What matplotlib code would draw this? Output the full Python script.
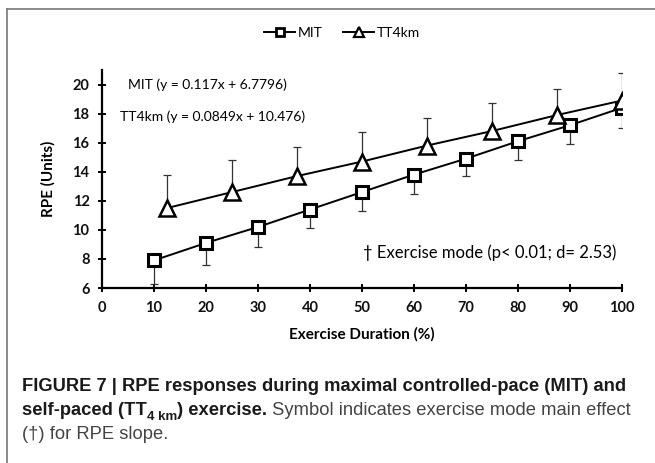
import numpy as np
import matplotlib
matplotlib.use("Agg")
import matplotlib.pyplot as plt
from matplotlib.lines import Line2D

# data
mit_x = [10, 20, 30, 40, 50, 60, 70, 80, 90, 100]
mit_y = [7.9, 9.1, 10.2, 11.4, 12.6, 13.8, 14.9, 16.1, 17.2, 18.4]
mit_low = [6.3, 7.6, 8.8, 10.1, 11.3, 12.5, 13.7, 14.8, 15.9, 17.0]   # lower end of SD bar

tt_x = [12.5, 25, 37.5, 50, 62.5, 75, 87.5, 100]
tt_y = [11.5, 12.6, 13.7, 14.7, 15.8, 16.8, 17.9, 18.9]
tt_high = [13.8, 14.8, 15.7, 16.7, 17.7, 18.7, 19.7, 20.8]        # upper end of SD bar

x_ticks = [0, 10, 20, 30, 40, 50, 60, 70, 80, 90, 100]
y_ticks = [6, 8, 10, 12, 14, 16, 18, 20]

W, H = 655, 463
fig = plt.figure(figsize=(W / 100, H / 100), dpi=100)

def px(x, y):
    # pixel coords (top-left origin) -> figure fraction
    return x / W, 1 - y / H

# panel frame (top and left edges)
fig.add_artist(Line2D([7 / W, 1], [1 - 9 / H, 1 - 9 / H], color="#777777", lw=1.2))
fig.add_artist(Line2D([7 / W, 7 / W], [0, 1 - 9 / H], color="#777777", lw=1.2))

left, right = 102, 622
bottom, top = 288, 70
ax = fig.add_axes([left / W, 1 - bottom / H, (right - left) / W, (bottom - top) / H])

mit_x = np.array(mit_x); mit_y = np.array(mit_y)
tt_x = np.array(tt_x); tt_y = np.array(tt_y)
mit_err = [mit_y - np.array(mit_low), np.zeros(len(mit_y))]
tt_err = [np.zeros(len(tt_y)), np.array(tt_high) - tt_y]

ax.errorbar(mit_x, mit_y, yerr=mit_err, fmt="none", ecolor="#333333", elinewidth=0.9, capsize=3, capthick=0.9, zorder=2)
ax.errorbar(tt_x, tt_y, yerr=tt_err, fmt="none", ecolor="#333333", elinewidth=0.9, capsize=3, capthick=0.9, zorder=2)

ax.plot(mit_x, mit_y, color="black", lw=1.4, zorder=3)
ax.plot(tt_x, tt_y, color="black", lw=1.4, zorder=3)
ax.plot(mit_x, mit_y, ls="none", marker="s", ms=9, mfc="white", mec="black", mew=2.2, zorder=4)
ax.plot(tt_x, tt_y, ls="none", marker="^", ms=11, mfc="white", mec="black", mew=1.8, zorder=4)

ax.set_xlim(0, 100)
ax.set_ylim(6, 21)
ax.set_xticks(x_ticks)
ax.set_yticks(y_ticks)
for s in ["top", "right"]:
    ax.spines[s].set_visible(False)
for s in ["left", "bottom"]:
    ax.spines[s].set_linewidth(1.6)
ax.tick_params(axis="both", direction="inout", length=6, width=1.4, pad=6)
for lab in ax.get_xticklabels() + ax.get_yticklabels():
    lab.set_fontfamily("Lato")
    lab.set_fontweight("bold")
    lab.set_fontsize(10.5)
    lab.set_color("#111111")

ax.set_xlabel("Exercise Duration (%)", fontfamily="Lato", fontweight="bold", fontsize=11, labelpad=9)
ax.set_ylabel("RPE (Units)", fontfamily="Lato", fontweight="bold", fontsize=11, labelpad=12)

ax.text(5, 20, "MIT (y = 0.117x + 6.7796)", fontfamily="Lato", fontsize=10, va="center", ha="left")
ax.text(3.5, 17.8, "TT4km (y = 0.0849x + 10.476)", fontfamily="Lato", fontsize=10, va="center", ha="left")
ax.text(99, 8.4, "\u2020 Exercise mode (p< 0.01; d= 2.53)", fontfamily="Lato", fontsize=12, va="center", ha="right")

h1 = Line2D([], [], color="black", lw=1.4, marker="s", ms=6, mfc="white", mec="black", mew=2)
h2 = Line2D([], [], color="black", lw=1.4, marker="^", ms=7, mfc="white", mec="black", mew=1.6)
fig.legend([h1, h2], ["MIT", "TT4km"], loc="center", bbox_to_anchor=px(342, 33), ncol=2, frameon=False,
           prop={"family": "Lato", "size": 10}, handlelength=2.2, handletextpad=0.2, columnspacing=1.5)

# caption with mixed bold / regular runs
renderer = fig.canvas.get_renderer()
cap_size = 13.2
bold_col = "#1a1a1a"
reg_col = "#444444"

def run(pieces, x0, y0):
    x = x0
    for txt, weight, size, dy, col in pieces:
        t = fig.text(x / W, 1 - (y0 + dy) / H, txt, fontfamily="Liberation Sans", fontweight=weight,
                     fontsize=size, color=col, va="baseline", ha="left")
        bb = t.get_window_extent(renderer)
        x += bb.width

run([("FIGURE 7 | RPE responses during maximal controlled-pace (MIT) and", "bold", cap_size, 0, bold_col)], 22, 391)
run([("self-paced (TT", "bold", cap_size, 0, bold_col),
     ("4 km", "bold", cap_size * 0.72, 5, bold_col),
     (") exercise.", "bold", cap_size, 0, bold_col),
     (" Symbol indicates exercise mode main effect", "normal", cap_size, 0, reg_col)], 22, 415)
run([("(\u2020) for RPE slope.", "normal", cap_size, 0, reg_col)], 22, 439)

fig.savefig("out.png", dpi=100)
